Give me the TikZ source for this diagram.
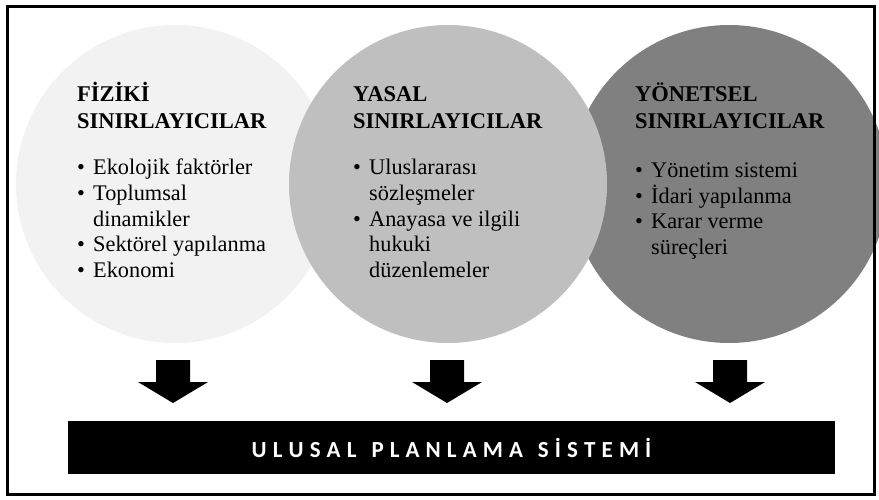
\documentclass[tikz,border=0pt]{standalone}
\usepackage{fontspec}
\setmainfont{Liberation Serif}
\newfontfamily\barfont{Carlito}
\definecolor{cone}{HTML}{F2F2F2}
\definecolor{ctwo}{HTML}{BFBFBF}
\definecolor{cthree}{HTML}{808080}
\newcommand\bk{\kern6.1pt}
\newcommand\wk{\kern15pt}
\begin{document}
\begin{tikzpicture}[x=1pt,y=-1pt,
  disc/.style={circle,inner sep=0pt,minimum size=318pt},
  ttl/.style={anchor=base west,inner sep=0pt,font=\bfseries\fontsize{22.5}{27}\selectfont},
  itm/.style={anchor=base west,inner sep=0pt,font=\fontsize{22.3}{25.5}\selectfont},
  bul/.style={anchor=base west,inner sep=0pt,font=\fontsize{22.3}{25.5}\selectfont},
  arrowfill/.style={fill=black},
  barbox/.style={fill=black,minimum width=767pt,minimum height=53pt,inner sep=0pt,
    text=white,font=\barfont\bfseries\fontsize{23}{25}\selectfont}]
\useasboundingbox (0,0) rectangle (879,500);
% circles (middle one on top)
\node[disc,fill=cone] (c1) at (175,184) {};
\node[disc,fill=cthree] (c3) at (729,184) {};
\node[disc,fill=ctwo] (c2) at (448,184) {};
% circle 1 text
\node[ttl] (h1a) at (77,102) {FİZİKİ};
\node[ttl] (h1b) at (77,129) {SINIRLAYICILAR};
\node[bul] (b1a) at (77,175) {•};
\node[itm] (i1a) at (93,175) {Ekolojik faktörler};
\node[bul] (b1b) at (77,200.5) {•};
\node[itm] (i1b) at (93,200.5) {Toplumsal};
\node[itm] (i1c) at (93,226) {dinamikler};
\node[bul] (b1d) at (77,251.5) {•};
\node[itm] (i1d) at (93,251.5) {Sektörel yapılanma};
\node[bul] (b1e) at (77,277) {•};
\node[itm] (i1e) at (93,277) {Ekonomi};
% circle 2 text
\node[ttl] (h2a) at (353,102) {YASAL};
\node[ttl] (h2b) at (353,129) {SINIRLAYICILAR};
\node[bul] (b2a) at (353,175) {•};
\node[itm] (i2a) at (369,175) {Uluslararası};
\node[itm] (i2b) at (369,200.5) {sözleşmeler};
\node[bul] (b2c) at (353,226) {•};
\node[itm] (i2c) at (369,226) {Anayasa ve ilgili};
\node[itm] (i2d) at (369,251.5) {hukuki};
\node[itm] (i2e) at (369,277) {düzenlemeler};
% circle 3 text
\node[ttl] (h3a) at (635,102) {YÖNETSEL};
\node[ttl] (h3b) at (635,129) {SINIRLAYICILAR};
\node[bul] (b3a) at (635,178) {•};
\node[itm] (i3a) at (651,178) {Yönetim sistemi};
\node[bul] (b3b) at (635,203.5) {•};
\node[itm] (i3b) at (651,203.5) {İdari yapılanma};
\node[bul] (b3c) at (635,229) {•};
\node[itm] (i3c) at (651,229) {Karar verme};
\node[itm] (i3d) at (651,254.5) {süreçleri};
% bar
\node[barbox] (bar) at (451.5,447.5) {U\bk L\bk U\bk S\bk A\bk L\wk P\bk L\bk A\bk N\bk L\bk A\bk M\bk A\wk S\bk İ\bk S\bk T\bk E\bk M\bk İ};
% block arrows
\coordinate (a1) at (173,360);
\coordinate (a2) at (447,360);
\coordinate (a3) at (730,360);
\foreach \a in {a1,a2,a3}{
  \fill[arrowfill] (\a) ++(-17,0) -- ++(34,0) -- ++(0,22) -- ++(18,0) -- ++(-35,21) -- ++(-35,-21) -- ++(18,0) -- cycle;
}
% frame
\draw[line width=2.5pt] (7.5,6.5) rectangle (874.5,494.5);
\end{tikzpicture}
\end{document}
